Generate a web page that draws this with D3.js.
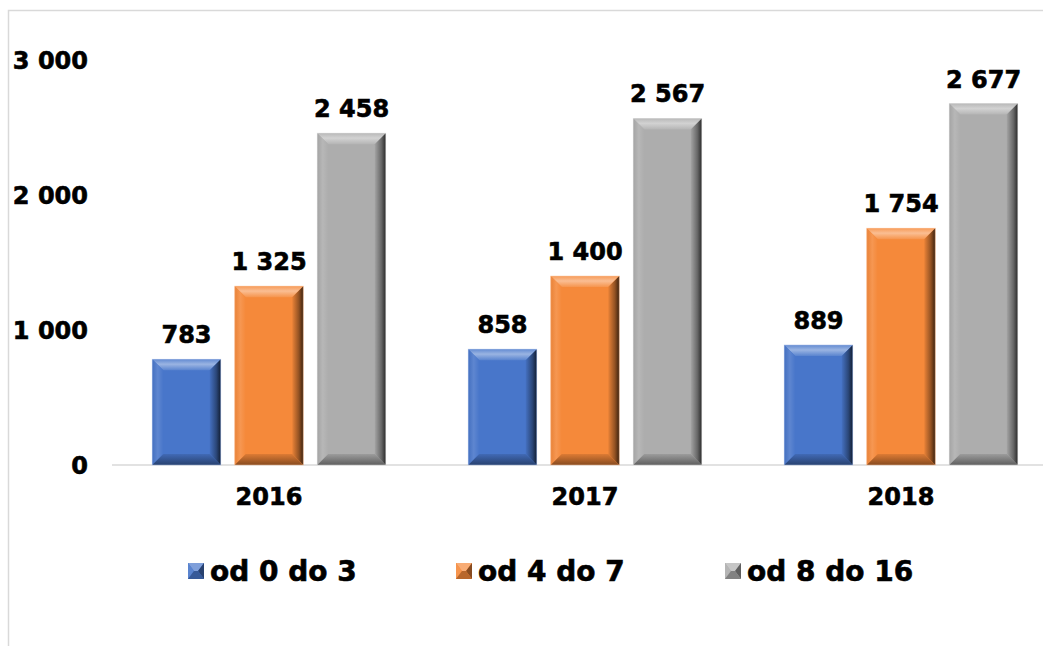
<!DOCTYPE html>
<html>
<head>
<meta charset="utf-8">
<script src="https://cdn.jsdelivr.net/npm/d3@7"></script>
<style>
  html, body { margin: 0; padding: 0; background: #fff; }
  svg { display: block; }
  text { font-family: "DejaVu Sans", Verdana, sans-serif; font-weight: bold; fill: #000; stroke: #000; stroke-width: 0.6px; }
</style>
</head>
<body>
<svg id="chart" width="1043" height="646"></svg>
<script>
// Number of children by age group, per year
const years = ["2016", "2017", "2018"];
const series = ["od 0 do 3", "od 4 do 7", "od 8 do 16"];
const age0to3 = [783, 858, 889];
const age4to7 = [1325, 1400, 1754];
const age8to16 = [2458, 2567, 2677];
const yTicks = [0, 1000, 2000, 3000];
const colors = ["#4876ca", "#f5893a", "#adadad"];

const values = [age0to3, age4to7, age8to16];
const rows = years.flatMap((yr, i) =>
  series.map((s, j) => ({ year: yr, series: s, si: j, value: values[j][i] })));

const svg = d3.select("#chart");
const defs = svg.append("defs");
const fmt = v => d3.format(",")(v).replace(/,/g, " ");

// Chart frame (extends past the right and bottom edges)
svg.append("path")
  .attr("d", "M8.5,646 V10.5 H1043")
  .attr("fill", "none")
  .attr("stroke", "#d9d9d9")
  .attr("stroke-width", 1.5);

const y = d3.scaleLinear().domain([0, 3000]).range([465, 60]);
const x0 = d3.scaleBand().domain(years).range([111, 1059]).paddingInner(0).paddingOuter(0);
const x1 = d3.scaleBand().domain(series).range([0, x0.bandwidth()]).paddingInner(0.17).paddingOuter(0.5);
const color = d3.scaleOrdinal().domain(series).range(colors);

// Facet gradients per series: top, left, right, bottom
function grad(id, dir, stops) {
  const [x1g, y1g, x2g, y2g] = dir;
  const g = defs.append("linearGradient").attr("id", id)
    .attr("x1", x1g).attr("y1", y1g).attr("x2", x2g).attr("y2", y2g);
  stops.forEach(([o, c]) => g.append("stop").attr("offset", o).attr("stop-color", c));
}
series.forEach((s, i) => {
  const base = colors[i];
  const mix = (k, to) => d3.interpolateRgb(base, to)(k);
  grad(`top${i}`, [0, 0, 0, 1], [[0, mix(0.15, "#fff")], [0.45, mix(0.45, "#fff")], [1, mix(0.1, "#fff")]]);
  grad(`left${i}`, [0, 0, 1, 0], [[0, mix(0.05, "#000")], [0.5, mix(0.12, "#fff")], [1, base]]);
  grad(`right${i}`, [0, 0, 1, 0], [[0, mix(0.05, "#000")], [0.6, mix(0.4, "#000")], [1, mix(0.75, "#000")]]);
  grad(`bottom${i}`, [0, 0, 0, 1], [[0, mix(0.1, "#000")], [1, mix(0.45, "#000")]]);
});

// Value axis labels (no axis line)
const yAxis = svg.append("g")
  .attr("transform", "translate(88,0)")
  .call(d3.axisLeft(y).tickValues(yTicks).tickSize(0).tickPadding(0).tickFormat(fmt));
yAxis.select(".domain").remove();
yAxis.selectAll("text")
  .style("font-size", "24px")
  .attr("dy", "0.36em");

// Category axis
const xAxis = svg.append("g")
  .attr("transform", `translate(0,${y(0)})`)
  .call(d3.axisBottom(x0).tickSize(0).tickPadding(23));
xAxis.select(".domain").remove();
xAxis.selectAll("text").style("font-size", "24px");

svg.append("line")
  .attr("x1", 112).attr("x2", 1043)
  .attr("y1", y(0)).attr("y2", y(0))
  .attr("stroke", "#d9d9d9").attr("stroke-width", 1.5);

// Bevelled bars
function bevel(g, x, yTop, w, h, i, b) {
  const base = colors[i];
  const x2 = x + w, y2 = yTop + h;
  const bb = Math.min(b, w / 2, h / 2);
  g.append("rect").attr("x", x).attr("y", yTop).attr("width", w).attr("height", h).attr("fill", base);
  g.append("polygon")
    .attr("points", [[x, yTop], [x2, yTop], [x2 - bb, yTop + bb], [x + bb, yTop + bb]].join(" "))
    .attr("fill", `url(#top${i})`);
  g.append("polygon")
    .attr("points", [[x, yTop], [x + bb, yTop + bb], [x + bb, y2 - bb], [x, y2]].join(" "))
    .attr("fill", `url(#left${i})`);
  g.append("polygon")
    .attr("points", [[x2, yTop], [x2, y2], [x2 - bb, y2 - bb], [x2 - bb, yTop + bb]].join(" "))
    .attr("fill", `url(#right${i})`);
  g.append("polygon")
    .attr("points", [[x, y2], [x2, y2], [x2 - bb, y2 - bb], [x + bb, y2 - bb]].join(" "))
    .attr("fill", `url(#bottom${i})`);
  g.append("rect").attr("x", x).attr("y", yTop).attr("width", w).attr("height", h)
    .attr("fill", "none").attr("stroke", d3.interpolateRgb(base, "#fff")(0.55))
    .attr("stroke-width", 0.8).attr("opacity", 0.6);
}

const bars = svg.append("g");
rows.forEach(d => {
  const bx = x0(d.year) + x1(d.series);
  const by = y(d.value);
  bevel(bars.append("g"), bx, by, x1.bandwidth(), y(0) - by, d.si, 11);
});

// Value labels
svg.append("g").selectAll("text")
  .data(rows)
  .join("text")
  .attr("x", d => x0(d.year) + x1(d.series) + x1.bandwidth() / 2)
  .attr("y", d => y(d.value) - 16)
  .attr("text-anchor", "middle")
  .style("font-size", "24px")
  .text(d => fmt(d.value));

// Legend with pyramid-style markers
const legendX = [188, 456, 725];
const legend = svg.append("g");
series.forEach((s, i) => {
  const g = legend.append("g").attr("transform", `translate(${legendX[i]},563)`);
  const base = colors[i];
  const mix = (k, to) => d3.interpolateRgb(base, to)(k);
  const m = 16, c = m / 2;
  g.append("rect").attr("width", m).attr("height", m).attr("fill", base);
  g.append("polygon").attr("points", [[0, 0], [m, 0], [c + 2, c], [c - 2, c]].join(" ")).attr("fill", mix(0.3, "#fff"));
  g.append("polygon").attr("points", [[0, 0], [c - 2, c], [0, m]].join(" ")).attr("fill", mix(0.1, "#fff"));
  g.append("polygon").attr("points", [[m, 0], [m, m], [c + 2, c]].join(" ")).attr("fill", mix(0.45, "#000"));
  g.append("polygon").attr("points", [[0, m], [m, m], [c + 2, c], [c - 2, c]].join(" ")).attr("fill", mix(0.25, "#000"));
  g.append("text")
    .attr("x", m + 6)
    .attr("y", 18)
    .style("font-size", "28px")
    .text(s);
});
</script>
</body>
</html>
